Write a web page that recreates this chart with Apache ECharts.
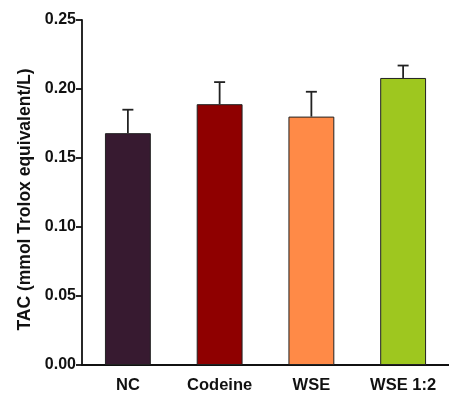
<!DOCTYPE html>
<html>
<head>
<meta charset="utf-8">
<script src="https://cdn.jsdelivr.net/npm/echarts@6/dist/echarts.min.js"></script>
<style>html,body{margin:0;padding:0;background:#fff;}#c{width:449px;height:401px;}</style>
</head>
<body>
<div id="c"></div>
<script>
var categories = ['NC', 'Codeine', 'WSE', 'WSE 1:2'];
var means = [0.168, 0.189, 0.180, 0.208];
var errors = [0.017, 0.016, 0.018, 0.009];
var colors = ['#371a30', '#8f0000', '#ff8a47', '#9ec71f'];
var yTicks = [0, 0.05, 0.10, 0.15, 0.20, 0.25];

var chart = echarts.init(document.getElementById('c'), null, {renderer: 'canvas'});
var font = 'Liberation Sans, Arial, sans-serif';
chart.setOption({
  animation: false,
  grid: {left: 82, top: 20, bottom: 36, right: -5, containLabel: false},
  xAxis: {
    type: 'category',
    data: categories,
    axisLine: {lineStyle: {color: '#111', width: 1.8}},
    axisTick: {alignWithLabel: true, length: 6, lineStyle: {color: '#111', width: 1.8}},
    axisLabel: {margin: 12, color: '#111', fontWeight: 'bold', fontSize: 16.5, fontFamily: font}
  },
  yAxis: {
    type: 'value',
    min: 0, max: 0.25, interval: 0.05,
    name: 'TAC (mmol Trolox equivalent/L)',
    nameLocation: 'middle',
    nameGap: 47,
    nameTextStyle: {color: '#111', fontWeight: 'bold', fontSize: 17.5, fontFamily: font, padding: [0, 14, 0, 0]},
    splitLine: {show: false},
    axisLine: {show: true, lineStyle: {color: '#111', width: 1.8}},
    axisTick: {show: true, length: 6, lineStyle: {color: '#111', width: 1.8}},
    axisLabel: {margin: 6, color: '#111', fontWeight: 'bold', fontSize: 16, fontFamily: font,
      formatter: function (v) { return v.toFixed(2); }}
  },
  series: [
    {
      type: 'bar',
      barWidth: '50%',
      data: means.map(function (v, i) {
        return {value: v, itemStyle: {color: colors[i], borderColor: '#222', borderWidth: 1}};
      }),
      z: 2
    },
    {
      type: 'custom',
      z: 3,
      data: means.map(function (v, i) { return [i, v, v + errors[i]]; }),
      renderItem: function (params, api) {
        var x = api.coord([api.value(0), api.value(1)]);
        var top = api.coord([api.value(0), api.value(2)]);
        var cap = 5.5;
        var style = {stroke: '#222', lineWidth: 1.8};
        return {
          type: 'group',
          children: [
            {type: 'line', shape: {x1: x[0], y1: x[1], x2: top[0], y2: top[1]}, style: style},
            {type: 'line', shape: {x1: top[0] - cap, y1: top[1], x2: top[0] + cap, y2: top[1]}, style: style}
          ]
        };
      }
    }
  ]
});
</script>
</body>
</html>
